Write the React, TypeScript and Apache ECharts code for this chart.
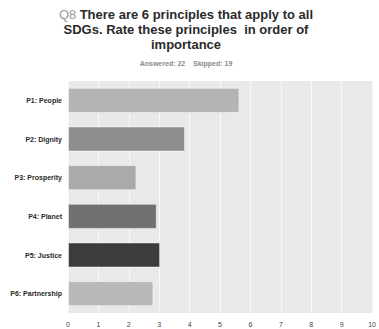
import React, { useEffect, useRef } from "react";
import * as echarts from "echarts";

const categories = ["P1: People", "P2: Dignity", "P3: Prosperity", "P4: Planet", "P5: Justice", "P6: Partnership"];
const scores = [5.64, 3.85, 2.25, 2.92, 3.03, 2.81];
const barColors = ["#b4b4b4", "#8e8e8e", "#aaaaaa", "#707070", "#3c3c3c", "#b9b9b9"];
const titleLines = ["There are 6 principles that apply to all", "SDGs. Rate these principles  in order of", "importance"];
const subtitle = "Answered: 22    Skipped: 19";

export default function App() {
  const ref = useRef<HTMLDivElement>(null);
  useEffect(() => {
    if (!ref.current) return;
    const chart = echarts.init(ref.current, null, { renderer: "svg" });
    const font = "'Liberation Sans', Arial, sans-serif";
    chart.setOption({
      animation: false,
      backgroundColor: "#ffffff",
      graphic: [
        {
          type: "text",
          x: 186,
          y: 14,
          style: {
            text: "{q|Q8} {t|" + titleLines[0] + "}",
            align: "center",
            verticalAlign: "middle",
            rich: {
              q: { fontFamily: font, fontSize: 13, fontWeight: "normal", fill: "#9a9a9a" },
              t: { fontFamily: font, fontSize: 13, fontWeight: "bold", fill: "#2a2a2a" },
            },
          },
        },
        {
          type: "text",
          x: 186,
          y: 29,
          style: {
            text: titleLines[1],
            align: "center",
            verticalAlign: "middle",
            fontFamily: font,
            fontSize: 13,
            fontWeight: "bold",
            fill: "#2a2a2a",
          },
        },
        {
          type: "text",
          x: 186,
          y: 44,
          style: {
            text: titleLines[2],
            align: "center",
            verticalAlign: "middle",
            fontFamily: font,
            fontSize: 13,
            fontWeight: "bold",
            fill: "#2a2a2a",
          },
        },
        {
          type: "text",
          x: 186,
          y: 63,
          style: {
            text: subtitle,
            align: "center",
            verticalAlign: "middle",
            fontFamily: font,
            fontSize: 7,
            fontWeight: "bold",
            fill: "#8a8a8a",
          },
        },
      ],
      grid: { left: 68, right: 0, top: 81, bottom: 16, show: true, backgroundColor: "#e9e9e9", borderWidth: 0 },
      xAxis: {
        type: "value",
        min: 0,
        max: 10,
        interval: 1,
        axisLine: { show: false },
        axisTick: { show: false },
        splitLine: { show: true, lineStyle: { color: "#f8f8f8", width: 1 } },
        axisLabel: { fontFamily: font, fontSize: 7, color: "#444", margin: 8, showMaxLabel: true, align: "center" },
      },
      yAxis: {
        type: "category",
        data: categories,
        inverse: true,
        axisLine: { show: false },
        axisTick: { show: false },
        axisLabel: { fontFamily: font, fontSize: 7, fontWeight: "bold", color: "#2a2a2a", margin: 6 },
      },
      series: [
        {
          type: "bar",
          data: scores.map((v, i) => ({ value: v, itemStyle: { color: barColors[i] } })),
          barWidth: "65%",
          itemStyle: { borderColor: "rgba(255,255,255,0.5)", borderWidth: 1 },
        },
      ],
    });
    return () => chart.dispose();
  }, []);
  return <div ref={ref} style={{ width: 379, height: 329, position: "absolute", left: 0, top: 0 }} />;
}
